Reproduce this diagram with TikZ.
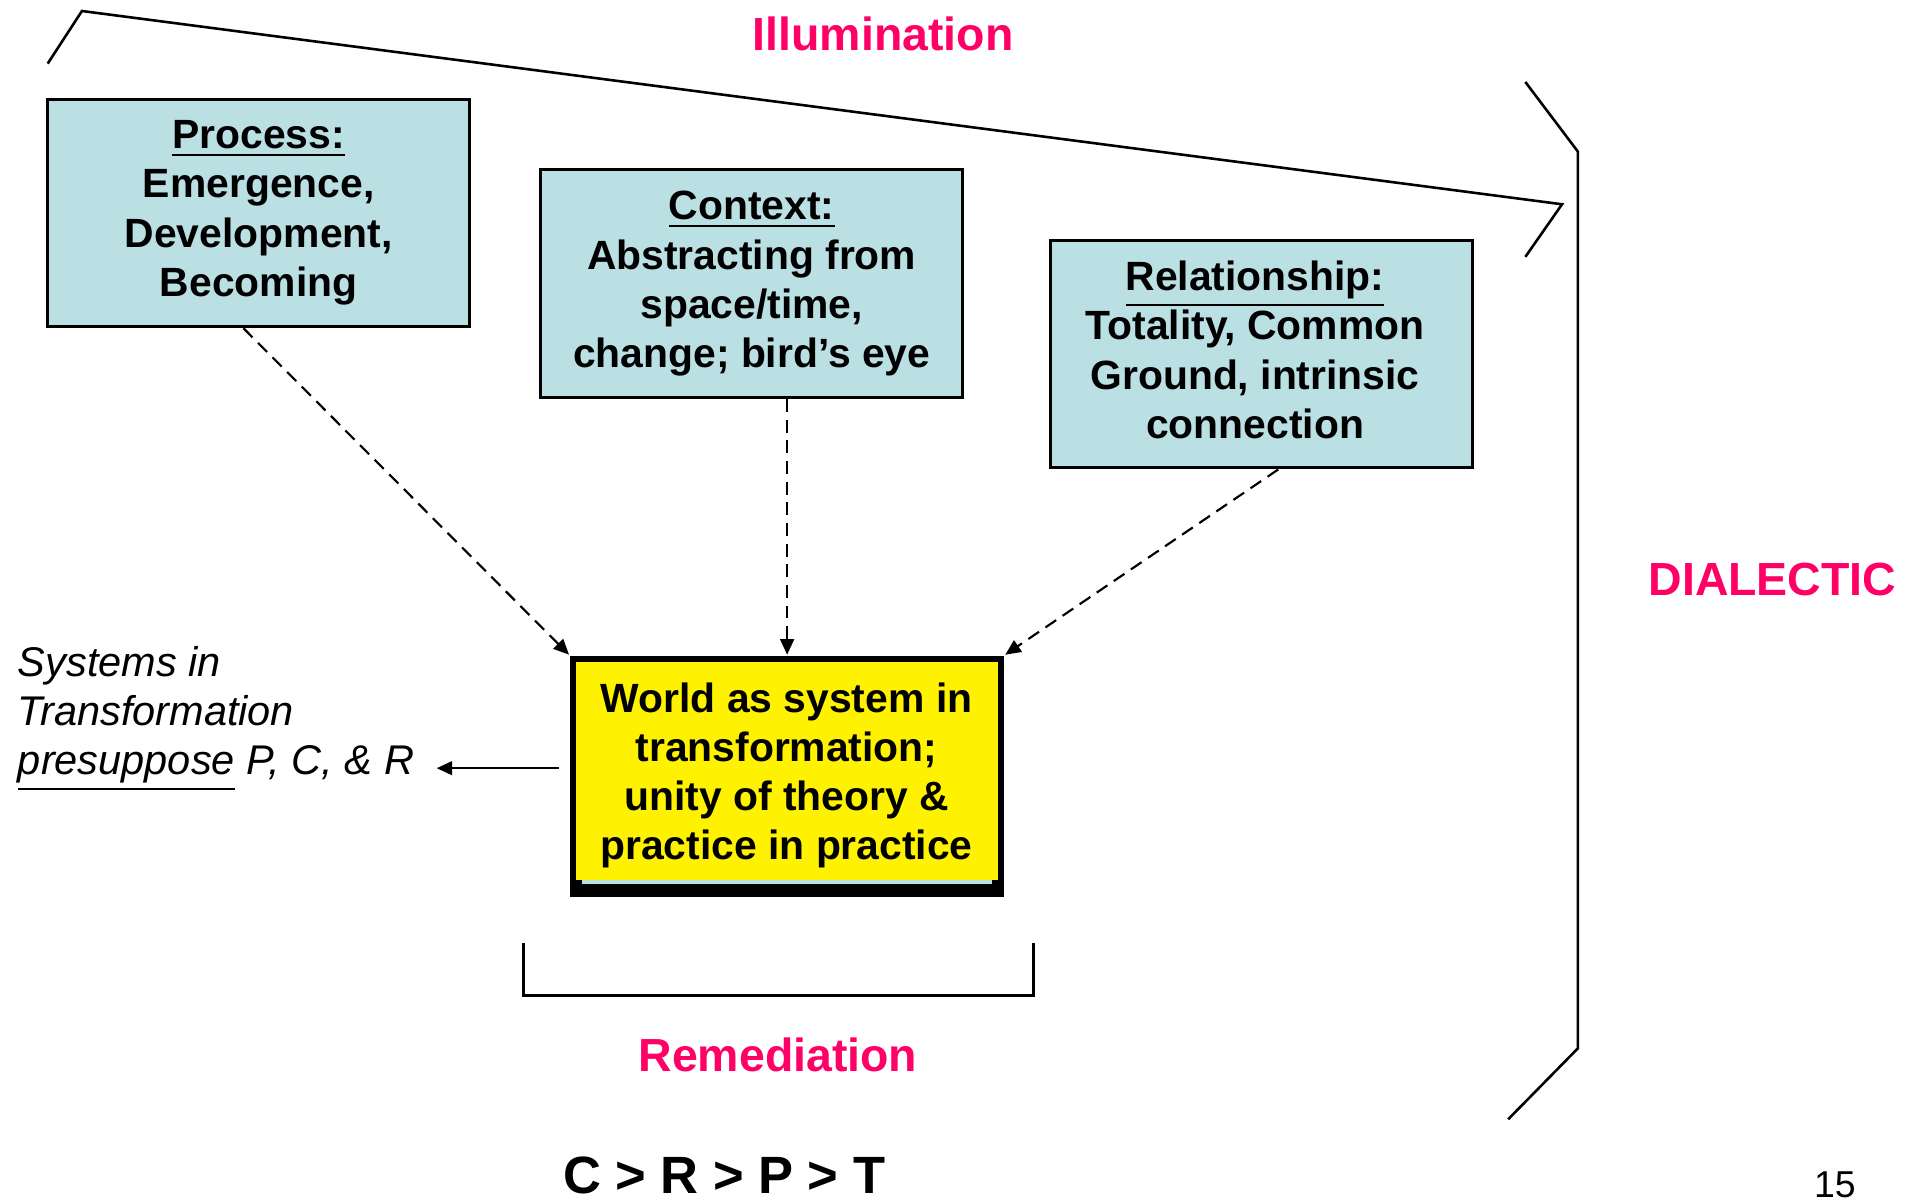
\documentclass[tikz,border=0pt]{standalone}
\usepackage{fontspec}
\setmainfont{Liberation Sans}
\usetikzlibrary{arrows.meta}
\definecolor{boxblue}{RGB}{187,224,227}
\definecolor{hot}{RGB}{255,0,102}
\begin{document}
\begin{tikzpicture}[x=0.01cm,y=-0.01cm,
  bracket/.style={line width=0.6pt,line join=miter},
  cbox/.style={draw=black,line width=0.7pt,fill=boxblue,minimum width=3.45cm,minimum height=1.86cm,inner sep=0pt,align=center,font=\fontsize{9.5}{11.45}\selectfont\bfseries},
  title/.style={text=hot,font=\fontsize{10.8}{13}\selectfont\bfseries,inner sep=0pt},
  dasharrow/.style={dash pattern=on 3pt off 1.8pt,line width=0.5pt,-{Triangle[length=3.6pt,width=3.2pt]}},
  solidarrow/.style={line width=0.5pt,-{Triangle[length=3.6pt,width=3.2pt]}},
  wframe/.style={fill=black,minimum width=3.55cm,minimum height=1.97cm,inner sep=0pt},
  ybox/.style={fill=yellow,minimum width=3.45cm,minimum height=1.78cm,inner sep=0pt},
  btext/.style={align=center,inner sep=0pt,font=\fontsize{9.5}{11.45}\selectfont\bfseries},
  lefttext/.style={align=left,inner sep=0pt,font=\fontsize{9.65}{11.4}\selectfont\itshape}
]
\useasboundingbox (0,0) rectangle (1568,982);

% brackets
\coordinate (t1) at (39,52);
\coordinate (t2) at (67,9);
\coordinate (t3) at (1277,167);
\coordinate (t4) at (1247,210);
\draw[bracket] (t1) -- (t2) -- (t3) -- (t4);
\coordinate (r1) at (1247,67);
\coordinate (r2) at (1290,124);
\coordinate (r3) at (1290,857);
\coordinate (r4) at (1233,915);
\draw[bracket] (r1) -- (r2) -- (r3) -- (r4);
\coordinate (b1) at (428,771);
\coordinate (b2) at (428,814);
\coordinate (b3) at (845,814);
\coordinate (b4) at (845,771);
\draw[bracket] (b1) -- (b2) -- (b3) -- (b4);

% titles
\node[title] (illum) at (722,28) {Illumination};
\node[title] (dial) at (1449,474) {DIALECTIC};
\node[title] (remed) at (636,862) {Remediation};

% boxes
\node[cbox] (proc) at (211.5,174) {\underline{Process:}\\Emergence,\\Development,\\Becoming};
\node[cbox] (ctx) at (614.5,232) {\underline{Context:}\\Abstracting from\\space/time,\\change; bird’s eye};
\node[cbox] (rel) at (1031.5,289.5) {};
\node[btext] (relt) at (1026,286) {\underline{Relationship:}\\Totality, Common\\Ground, intrinsic\\connection};

% world box
\node[wframe] (world) at (643.5,634.5) {};
\fill[boxblue] (476,719) rectangle (811,723);
\node[ybox] (wy) at (643.5,630) {};
\node[btext] (wt) at (643,634) {World as system in\\transformation;\\unity of theory \&\\practice in practice};

% dashed arrows
\draw[dasharrow] ([xshift=-0.125cm]proc.south) -- (world.north west);
\draw[dasharrow] (ctx.south -| world.north) -- (world.north);
\draw[dasharrow] ([xshift=0.135cm]rel.south) -- (world.north east);

% left text
\node[lefttext,anchor=west] (sys) at (14,588) {Systems in\\Transformation\\\underline{presuppose} P, C, \& R};
\coordinate (a1) at (457,628);
\coordinate (a2) at (357,628);
\draw[solidarrow] (a1) -- (a2);

% bottom texts
\node[inner sep=0pt,anchor=base,font=\fontsize{12.2}{14}\selectfont\bfseries] (crpt) at (592,976) {C > R > P > T};
\node[inner sep=0pt,anchor=base,font=\fontsize{8.7}{10}\selectfont] (pg) at (1500,979) {15};
\end{tikzpicture}
\end{document}
